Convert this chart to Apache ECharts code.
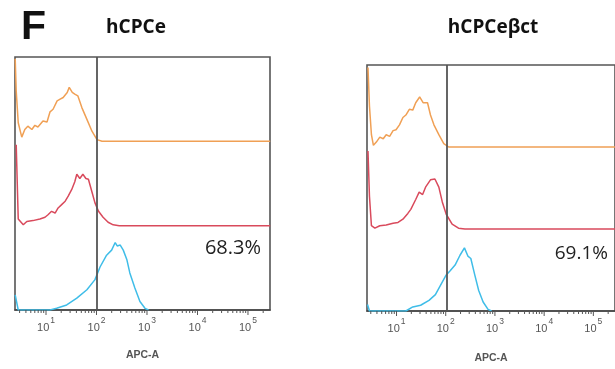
<!DOCTYPE html>
<html><head><meta charset="utf-8">
<script src="https://cdn.jsdelivr.net/npm/echarts@6/dist/echarts.min.js"></script>
<style>html,body{margin:0;padding:0;background:#fff}#c{width:615px;height:369px}</style>
</head><body><div id="c"></div>
<script>
// ---- data (x = log10 of APC-A intensity, y = relative count per lane, lane height 100) ----
const panelTitles = ['hCPCe', 'hCPCeβct'];
const percentLabels = ['68.3%', '69.1%'];
const axisName = 'APC-A';
const decadeTicks = [1, 2, 3, 4, 5];
const gateLog = [2.01, 2.02];
const laneOffsets = { cyan: 0, red: 100, orange: 200 };

// hCPCe
const orangeL = [[0.39,98],[0.41,60],[0.45,22],[0.52,5],[0.58,14],[0.64,18],[0.72,14],[0.78,19],[0.84,17],[0.94,24],[1.02,23],[1.08,35],[1.14,38],[1.22,48],[1.28,50],[1.34,52],[1.42,58],[1.46,64],[1.52,58],[1.57,56],[1.63,54],[1.71,40],[1.81,26],[1.91,12],[2.01,2],[2.11,0],[5.44,0]];
const redL = [[0.41,96],[0.45,8],[0.55,1],[0.62,5],[0.74,6],[0.88,8],[0.98,10],[1.04,13],[1.11,17],[1.18,15],[1.24,21],[1.31,25],[1.38,29],[1.44,35],[1.51,43],[1.57,52],[1.61,61],[1.67,56],[1.73,61],[1.79,56],[1.84,55],[1.91,40],[1.97,27],[2.04,17],[2.13,10],[2.23,4],[2.33,1],[2.45,0],[5.44,0]];
const cyanL = [[0.39,18],[0.45,0],[1.08,0],[1.21,2],[1.41,6],[1.61,14],[1.81,24],[1.97,36],[2.07,51],[2.20,65],[2.30,71],[2.37,80],[2.41,76],[2.47,77],[2.53,71],[2.60,60],[2.66,44],[2.76,26],[2.86,10],[2.96,2],[3.03,0]];

// hCPCeβct
const orangeR = [[0.42,97],[0.45,50],[0.49,15],[0.53,2],[0.59,6],[0.66,12],[0.73,10],[0.79,15],[0.86,13],[0.93,20],[0.99,21],[1.06,27],[1.13,36],[1.19,39],[1.26,46],[1.33,45],[1.39,54],[1.47,61],[1.54,54],[1.63,54],[1.69,39],[1.76,27],[1.86,15],[1.96,4],[2.06,0],[5.44,0]];
const redR = [[0.42,95],[0.45,40],[0.49,4],[0.56,1],[0.66,4],[0.79,5],[0.93,7],[1.03,8],[1.13,12],[1.23,19],[1.29,24],[1.39,36],[1.46,45],[1.53,42],[1.59,51],[1.69,60],[1.78,61],[1.86,51],[1.93,33],[2.01,18],[2.13,6],[2.26,1],[2.39,0],[5.44,0]];
const cyanR = [[0.41,8],[0.45,0],[1.19,0],[1.33,5],[1.49,7],[1.66,13],[1.79,20],[1.89,31],[2.01,44],[2.09,49],[2.19,56],[2.29,68],[2.38,77],[2.45,67],[2.51,64],[2.59,44],[2.67,25],[2.76,11],[2.86,2],[2.93,0]];

// ---- chart ----
const colors = { orange: '#F0A055', red: '#D94A5C', cyan: '#3FBDE8' };
const minorTicks = [];
for (let n = 0; n <= 5; n++) for (let k = 2; k <= 9; k++) minorTicks.push(n + Math.log10(k));

const panels = [
  { grid: { left: 15, top: 57, width: 255, height: 253 }, min: 0.386, max: 5.436, nameGap: 40, curves: { orange: orangeL, red: redL, cyan: cyanL } },
  { grid: { left: 367, top: 65, width: 252, height: 254 }, min: 0.4, max: 5.44, nameGap: 42, curves: { orange: orangeR, red: redR, cyan: cyanR } }
];

const grids = [], xAxes = [], yAxes = [], series = [];
panels.forEach((p, i) => {
  grids.push(Object.assign({ show: true, borderColor: '#555', borderWidth: 1.6, backgroundColor: 'transparent' }, p.grid));
  xAxes.push({
    type: 'value', gridIndex: i, min: p.min, max: p.max, position: 'bottom',
    name: axisName, nameLocation: 'middle', nameGap: p.nameGap,
    nameTextStyle: { fontSize: 10.5, color: '#555', fontFamily: 'Liberation Sans', fontWeight: 'bold' },
    axisLine: { show: true, lineStyle: { color: '#444', width: 1.6 } },
    axisTick: { show: false },
    axisLabel: {
      show: true, customValues: decadeTicks, margin: 6,
      formatter: v => '{b|10}{s|' + Math.round(v) + '}',
      rich: {
        b: { fontSize: 11, color: '#555', fontFamily: 'Liberation Sans', lineHeight: 17, verticalAlign: 'bottom' },
        s: { fontSize: 8.5, color: '#555', fontFamily: 'Liberation Sans', lineHeight: 8, verticalAlign: 'top', padding: [0, 0, 0, 1] }
      }
    },
    splitLine: { show: false }
  });
  yAxes.push({ type: 'value', gridIndex: i, min: 0, max: 300, show: false, splitLine: { show: false } });
  ['orange', 'red', 'cyan'].forEach(key => {
    const s = {
      type: 'line', xAxisIndex: i, yAxisIndex: i, showSymbol: false, silent: true,
      lineStyle: { color: colors[key], width: 1.5 }, itemStyle: { color: colors[key] },
      data: p.curves[key].map(([x, c]) => [x, c + laneOffsets[key]]),
      z: 3
    };
    if (key === 'cyan') {
      s.markLine = { silent: true, symbol: 'none', label: { show: false },
        lineStyle: { color: '#555', width: 1.8, type: 'solid' }, data: [{ xAxis: gateLog[i] }] };
    }
    series.push(s);
  });
  // axis ticks (log-spaced) drawn through the axis scale
  const tickData = decadeTicks.map(v => [v, 5]).concat(
    minorTicks.filter(v => v > p.min && v < p.max).map(v => [v, 3]));
  series.push({
    type: 'custom', xAxisIndex: i, yAxisIndex: i, silent: true, clip: false, z: 4,
    data: tickData,
    renderItem: (params, api) => {
      const pt = api.coord([api.value(0), 0]);
      return { type: 'line', shape: { x1: pt[0], y1: pt[1], x2: pt[0], y2: pt[1] + api.value(1) },
        style: { stroke: '#555', lineWidth: 1 } };
    }
  });
});

const chart = echarts.init(document.getElementById('c'), null, { renderer: 'canvas' });
chart.setOption({
  animation: false,
  backgroundColor: '#fff',
  grid: grids, xAxis: xAxes, yAxis: yAxes, series: series,
  graphic: [
    { type: 'text', left: 21, top: 7, style: { text: 'F', font: 'bold 41px "Liberation Sans"', fill: '#111' } },
    { type: 'text', x: 136, y: 28, style: { text: panelTitles[0], font: 'bold 19px "Open Sans"', fill: '#111', align: 'center', verticalAlign: 'middle' } },
    { type: 'text', x: 493, y: 28, style: { text: panelTitles[1], font: 'bold 19px "Open Sans"', fill: '#111', align: 'center', verticalAlign: 'middle' } },
    { type: 'text', x: 261, y: 248, style: { text: percentLabels[0], font: '20px "Open Sans"', fill: '#222', align: 'right', verticalAlign: 'middle' } },
    { type: 'text', x: 608, y: 254, style: { text: percentLabels[1], font: '19px "Open Sans"', fill: '#222', align: 'right', verticalAlign: 'middle' } }
  ]
});
</script>
</body></html>
